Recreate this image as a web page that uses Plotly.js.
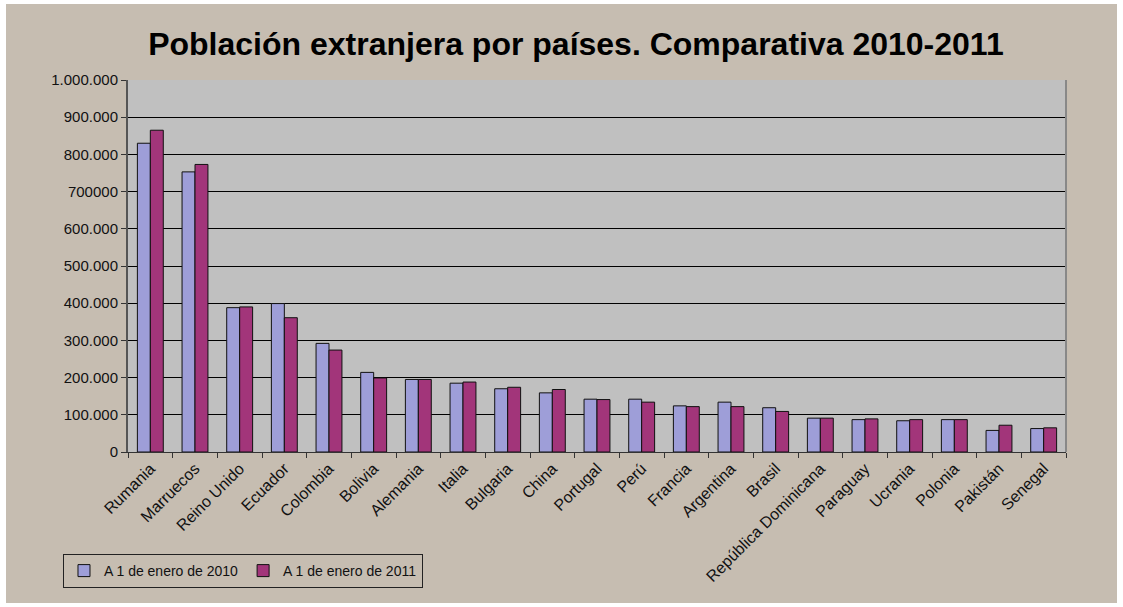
<!DOCTYPE html>
<html>
<head>
<meta charset="utf-8">
<script src="https://cdn.plot.ly/plotly-3.0.1.min.js"></script>
<style>
html,body{margin:0;padding:0;background:#ffffff;}
#chart{position:absolute;left:6px;top:4px;width:1111px;height:599px;}
</style>
</head>
<body>
<div id="chart"></div>
<script>
const countries = ["Rumania","Marruecos","Reino Unido","Ecuador","Colombia","Bolivia","Alemania","Italia","Bulgaria","China","Portugal","Perú","Francia","Argentina","Brasil","República Dominicana","Paraguay","Ucrania","Polonia","Pakistán","Senegal"];
const values2010 = [830000,753000,388000,399000,292000,214000,195000,185000,170000,159000,142000,142000,124000,134000,119000,91000,87000,84000,87000,58000,63000];
const values2011 = [865000,773000,390000,361000,274000,199000,195000,188000,174000,168000,141000,134000,122000,122000,109000,91000,89000,87000,87000,72000,65000];
const seriesNames = ["A 1 de enero de 2010","A 1 de enero de 2011"];
const yTickVals = [0,100000,200000,300000,400000,500000,600000,700000,800000,900000,1000000];
const yTickText = ["0","100.000","200.000","300.000","400.000","500.000","600.000","700000","800.000","900.000","1.000.000"];

const font = "Liberation Sans, Arial, sans-serif";
const traces = [
  {type:"bar", name:seriesNames[0], x:countries, y:values2010,
   marker:{color:"#9E9ED8", line:{color:"#111111", width:1}}},
  {type:"bar", name:seriesNames[1], x:countries, y:values2011,
   marker:{color:"#A2357A", line:{color:"#111111", width:1}}}
];
const layout = {
  width:1111, height:599,
  paper_bgcolor:"#C6BDB1", plot_bgcolor:"#C0C0C0",
  margin:{l:122, r:51, t:76, b:151},
  barmode:"group", bargap:0.42, bargroupgap:0,
  title:{text:"<b>Población extranjera por países. Comparativa 2010-2011</b>",
         font:{family:font, size:32, color:"#000000"},
         x:0.513, xanchor:"center", y:0.933, yanchor:"middle", xref:"container", yref:"container"},
  xaxis:{type:"category", tickangle:-45, tickson:"boundaries", ticks:"outside", ticklen:5,
         tickcolor:"#333333", showline:true, linecolor:"#333333", linewidth:1, mirror:false,
         showgrid:false, tickfont:{family:font, size:16, color:"#111111"}},
  yaxis:{range:[0,1000000], tickvals:yTickVals, ticktext:yTickText, ticks:"outside", ticklen:5,
         tickcolor:"#333333", showline:true, linecolor:"#555555", linewidth:2,
         showgrid:true, gridcolor:"#000000", gridwidth:1, zeroline:false,
         tickfont:{family:font, size:15, color:"#111111"}},
  shapes:[{type:"line", xref:"paper", yref:"paper", x0:1, x1:1, y0:0, y1:1, line:{color:"#888888", width:2}}],
  showlegend:true,
  legend:{orientation:"h", xref:"container", yref:"container", x:0.0513, xanchor:"left",
          y:0.0818, yanchor:"top", bgcolor:"#C6BDB1", bordercolor:"#222222", borderwidth:1,
          font:{family:font, size:14, color:"#111111"}, traceorder:"normal", itemwidth:30}
};
Plotly.newPlot("chart", traces, layout, {displayModeBar:false, staticPlot:true});
</script>
</body>
</html>
